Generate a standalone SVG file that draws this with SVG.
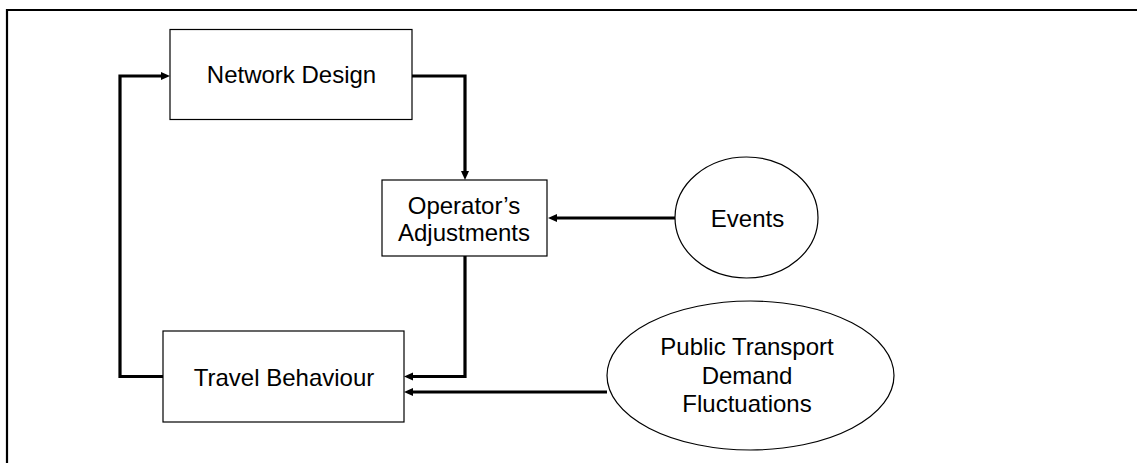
<svg xmlns="http://www.w3.org/2000/svg" width="1137" height="463" viewBox="0 0 1137 463">
<style>
.box{fill:#fff;stroke:#000;stroke-width:1.2}
.lbl{font-family:"Liberation Sans",Arial,sans-serif;font-size:24px;fill:#000;text-anchor:middle}
.con{fill:none;stroke:#000;stroke-width:3.2;stroke-linejoin:miter}
.frame{fill:none;stroke:#000;stroke-width:2.2}
</style>
<defs>
<marker id="ah" markerUnits="userSpaceOnUse" markerWidth="10" markerHeight="9" refX="0" refY="4.5" orient="auto" overflow="visible">
<path d="M0,0.5 L9,4.5 L0,8.5 z" fill="#000"/>
</marker>
</defs>
<rect width="1137" height="463" fill="#fff"/>
<path class="frame" d="M7,463 V10 H1137"/>
<g id="connectors">
<path class="con" d="M163,376.5 H120 V76 H161" marker-end="url(#ah)"/>
<path class="con" d="M412,76 H465 V171" marker-end="url(#ah)"/>
<path class="con" d="M675,218 H557" marker-end="url(#ah)"/>
<path class="con" d="M465,256 V376.5 H413" marker-end="url(#ah)"/>
<path class="con" d="M607,392 H413" marker-end="url(#ah)"/>
</g>
<g id="network-design">
<rect class="box" x="170" y="29.5" width="242" height="90"/>
<text class="lbl" x="291.5" y="83">Network Design</text>
</g>
<g id="operators-adjustments">
<rect class="box" x="382" y="180" width="165" height="76"/>
<text class="lbl" x="464" y="214">Operator’s</text>
<text class="lbl" x="464" y="241">Adjustments</text>
</g>
<g id="travel-behaviour">
<rect class="box" x="163" y="331" width="241" height="91"/>
<text class="lbl" x="284" y="386">Travel Behaviour</text>
</g>
<g id="events">
<ellipse class="box" cx="746.5" cy="217.5" rx="71.5" ry="60.5"/>
<text class="lbl" x="747.5" y="227">Events</text>
</g>
<g id="public-transport-demand">
<ellipse class="box" cx="750.5" cy="375.5" rx="143.5" ry="74.5"/>
<text class="lbl" x="747" y="355">Public Transport</text>
<text class="lbl" x="747" y="383.5">Demand</text>
<text class="lbl" x="747" y="412">Fluctuations</text>
</g>
</svg>
